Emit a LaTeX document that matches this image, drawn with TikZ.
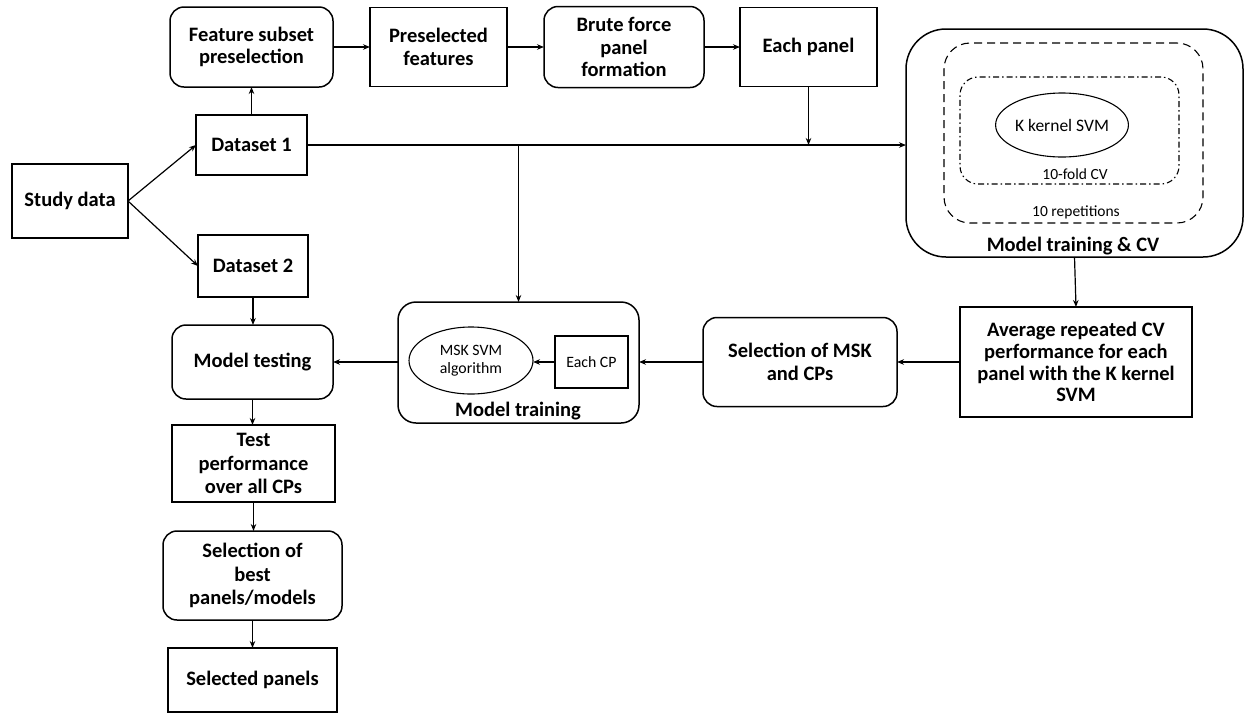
\documentclass[tikz,border=0pt]{standalone}
\usepackage{fontspec}
\setmainfont{Carlito}
\usetikzlibrary{arrows.meta,shapes.geometric}
\tikzset{
  box/.style={draw, line width=1.5pt, inner sep=0pt, outer sep=0pt, align=center,
    font=\fontsize{20.5}{22.5}\selectfont\bfseries},
  rbox/.style={box, rounded corners=14pt},
  conn/.style={line width=1.2pt, -{Stealth[length=7pt,width=5.5pt]}},
  ell/.style={draw, ellipse, line width=1.1pt, inner sep=0pt, outer sep=0pt, align=center,
    font=\fontsize{17.5}{19}\selectfont},
  small/.style={font=\fontsize{15.5}{17}\selectfont, inner sep=0pt},
  lab/.style={font=\fontsize{20.5}{22}\selectfont\bfseries, inner sep=0pt},
}
\begin{document}
\begin{tikzpicture}[x=1pt,y=-1pt]
\useasboundingbox (0,0) rectangle (1246,716);
% left column
\node[box, minimum width=116pt, minimum height=74pt] (sd) at (70,201) {Study data};
\node[box, minimum width=111pt, minimum height=60pt] (d1) at (251.5,145) {Dataset 1};
\node[box, minimum width=110pt, minimum height=62pt] (d2) at (253,266) {Dataset 2};
\node[rbox, minimum width=163pt, minimum height=80pt] (fs) at (251.5,47) {Feature subset\\preselection};
\node[box, minimum width=137pt, minimum height=79pt] (pf) at (438.5,47) {Preselected\\features};
\node[rbox, minimum width=160pt, minimum height=81pt] (bf) at (624,47) {Brute force\\panel\\formation};
\node[box, minimum width=137pt, minimum height=79pt] (ep) at (808.5,47) {Each panel};
% big CV box
\node[draw, line width=1.5pt, rounded corners=40pt, minimum width=337pt, minimum height=228pt, inner sep=0pt, outer sep=0pt] (big) at (1074.5,143) {};
\node[draw, line width=1.1pt, dash pattern=on 8pt off 5pt, rounded corners=26pt, minimum width=259pt, minimum height=180pt, inner sep=0pt] (rep) at (1073.5,133) {};
\node[draw, line width=1.1pt, dash pattern=on 6pt off 3pt on 1.5pt off 3pt, rounded corners=18pt, minimum width=219pt, minimum height=107pt, inner sep=0pt] (fold) at (1069.5,130.5) {};
\node[ell, minimum width=110pt, minimum height=64pt] (ksvm) at (1062,125) {K kernel SVM};
\node[small] (foldlab) at (1075,174) {10-fold CV};
\node[small] (replab) at (1076,212) {10 repetitions};
\node[lab] (biglab) at (1073,246) {Model training \& CV};
% middle row
\node[box, minimum width=232pt, minimum height=110pt, font=\fontsize{20.5}{21.8}\selectfont\bfseries] (avg) at (1076,362) {Average repeated CV\\performance for each\\panel with the K kernel\\SVM};
\node[rbox, minimum width=194pt, minimum height=89pt] (sel) at (800,362) {Selection of MSK\\and CPs};
\node[draw, line width=1.5pt, rounded corners=18pt, minimum width=241pt, minimum height=121pt, inner sep=0pt, outer sep=0pt] (mt) at (518.5,362.5) {};
\node[ell, minimum width=124pt, minimum height=67pt, font=\fontsize{15.8}{18}\selectfont] (msk) at (471,360.5) {MSK SVM\\algorithm};
\node[draw, line width=1.1pt, minimum width=73pt, minimum height=52pt, inner sep=0pt, outer sep=0pt, font=\fontsize{15.8}{18}\selectfont] (cp) at (591.5,362) {Each CP};
\node[lab] (mtlab) at (518,411) {Model training};
\node[rbox, minimum width=161pt, minimum height=74pt] (mtest) at (252.5,362) {Model testing};
\node[box, minimum width=163pt, minimum height=77pt, font=\fontsize{20.5}{23.3}\selectfont\bfseries] (tp) at (253.5,463.5) {Test\\performance\\over all CPs};
\node[rbox, minimum width=179pt, minimum height=89pt, font=\fontsize{20.5}{23.3}\selectfont\bfseries] (sb) at (252.5,575.5) {Selection of\\best\\panels/models};
\node[box, minimum width=169pt, minimum height=64pt] (sp) at (252.5,680) {Selected panels};
% connectors
\draw[conn] (sd.east) -- (d1.west);
\draw[conn] (sd.east) -- (d2.west);
\draw[conn] (d1.north) -- (fs.south);
\draw[conn] (fs.east) -- (pf.west);
\draw[conn] (pf.east) -- (bf.west);
\draw[conn] (bf.east) -- (ep.west);
\draw[conn] (d1.east) -- (big.west |- d1.east);
\draw[conn] (ep.south) -- (ep.south |- d1.east);
\draw[conn] (mt.north |- d1.east) -- (mt.north);
\draw[conn] (big.south) -- (avg.north);
\draw[conn] (avg.west) -- (sel.east);
\draw[conn] (sel.west) -- (mt.east |- sel.west);
\draw[conn] (cp.west) -- (msk.east |- cp.west);
\draw[conn] (mt.west |- mtest.east) -- (mtest.east);
\draw[conn] (d2.south) -- (d2.south |- mtest.north);
\draw[conn] (mtest.south) -- (mtest.south |- tp.north);
\draw[conn] (tp.south) -- (tp.south |- sb.north);
\draw[conn] (sb.south) -- (sp.north);
\end{tikzpicture}
\end{document}
